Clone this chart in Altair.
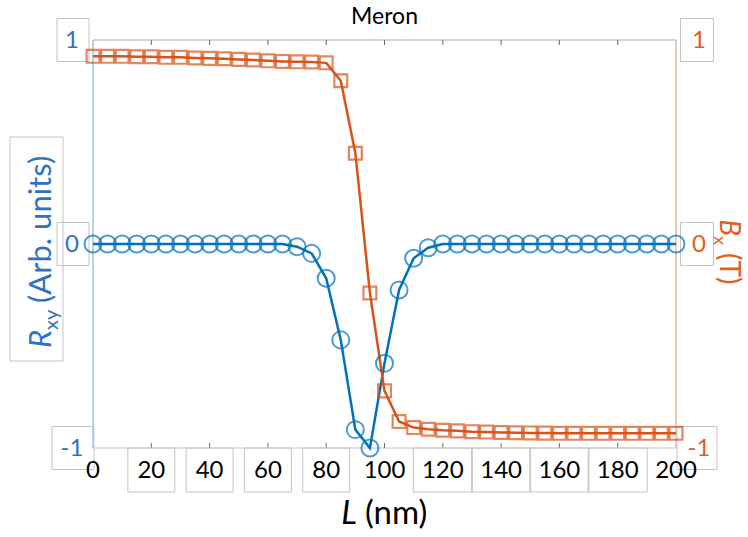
import altair as alt
import pandas as pd

# ---------------------------------------------------------------------------
# Data: domain-wall length sweep, sampled every 5 nm
# ---------------------------------------------------------------------------
L_NM = list(range(0, 205, 5))

# Hall resistance R_xy (arbitrary units)
RXY = [0, 0, 0, 0, 0, 0, 0, 0, 0, 0, 0, 0, 0, 0,
       -0.013, -0.046, -0.168, -0.47, -0.91, -1.0, -0.585, -0.225, -0.07, -0.018,
       0, 0, 0, 0, 0, 0, 0, 0, 0, 0, 0, 0, 0, 0, 0, 0, 0]

# In-plane field B_x (T)
BX = [0.92, 0.92, 0.92, 0.918, 0.918, 0.915, 0.915, 0.912, 0.91, 0.908,
      0.905, 0.902, 0.898, 0.895, 0.893, 0.892, 0.888,
      0.80, 0.445, -0.24, -0.72, -0.87, -0.90, -0.908, -0.913, -0.916,
      -0.92, -0.922, -0.924, -0.925, -0.926, -0.927, -0.928, -0.928,
      -0.928, -0.928, -0.928, -0.928, -0.928, -0.928, -0.928]

X_TICKS = [0, 20, 40, 60, 80, 100, 120, 140, 160, 180, 200]
X_BOXED = [20, 40, 60, 80, 120, 140, 160, 180]
Y_TICKS = [1, 0, -1]
Y_LABELS = ["1", "0", "-1"]

TITLE = "Meron"

# ---------------------------------------------------------------------------
# Layout / style
# ---------------------------------------------------------------------------
W, H = 583, 408
PAD = {"left": 93, "top": 40, "right": 72, "bottom": 89}
PX_PER_Y = H / 2.0          # pixels per y unit
BLUE = "#0072BD"
ORANGE = "#D95319"
BLUE_TXT = "#2E72C2"
ORANGE_TXT = "#E2601A"
BOX = "#c4c4c4"
FONT = "Lato"

xs = alt.Scale(domain=[0, 200], nice=False, zero=False)
ys = alt.Scale(domain=[-1, 1], nice=False, zero=False)

one = pd.DataFrame({"k": [0]})

df = pd.DataFrame({"L": L_NM, "Rxy": RXY, "Bx": BX})

# --- plot frame ------------------------------------------------------------
def hline(yv, color):
    return alt.Chart(one).mark_rule(color=color, strokeWidth=1.2).encode(
        x=alt.XDatum(0, scale=xs), x2=alt.X2Datum(200), y=alt.YDatum(yv, scale=ys))

def vline(xv, color):
    return alt.Chart(one).mark_rule(color=color, strokeWidth=1.2).encode(
        x=alt.XDatum(xv, scale=xs), y=alt.YDatum(-1, scale=ys), y2=alt.Y2Datum(1))

frame = [hline(1, "#ababab"), hline(-1, "#c8c8c8"),
         vline(0, "#86b6cf"), vline(200, "#e6a789")]

tick_len = 5 / PX_PER_Y
tick_df = pd.DataFrame({"x": X_TICKS[1:-1]})
top_ticks = alt.Chart(tick_df).mark_rule(color="#6b6b6b", strokeWidth=1).encode(
    x=alt.X("x:Q", scale=xs), y=alt.YDatum(1, scale=ys), y2=alt.Y2Datum(1 - tick_len))
bot_ticks = alt.Chart(tick_df).mark_rule(color="#6b6b6b", strokeWidth=1).encode(
    x=alt.X("x:Q", scale=xs), y=alt.YDatum(-1, scale=ys), y2=alt.Y2Datum(-1 + tick_len))

# --- label boxes -------------------------------------------------------------
px_per_x = W / 200.0
xbox = pd.DataFrame({"c": X_BOXED})
xbox["hw"] = [(23.5 if c < 100 else 29.5) / px_per_x for c in X_BOXED]
xbox["x0"] = xbox["c"] - xbox["hw"]
xbox["x1"] = xbox["c"] + xbox["hw"]
xbox["y0"] = -1.0
xbox["y1"] = -1.0 - 44 / PX_PER_Y
x_boxes = alt.Chart(xbox).mark_rect(fillOpacity=0, stroke=BOX, strokeWidth=1).encode(
    x=alt.X("x0:Q", scale=xs), x2="x1:Q", y=alt.Y("y0:Q", scale=ys), y2="y1:Q")


def side_boxes(x_center, hw1, hw2):
    rows = []
    for v, lab in zip(Y_TICKS, Y_LABELS):
        hw = hw1 if len(lab) == 1 else hw2
        rows.append({"xa": x_center - hw, "xb": x_center + hw,
                     "y0": v + 21.5 / PX_PER_Y, "y1": v - 21.5 / PX_PER_Y})
    d = pd.DataFrame(rows)
    d["xa"] = d["xa"] / px_per_x
    d["xb"] = d["xb"] / px_per_x
    return alt.Chart(d).mark_rect(fillOpacity=0, stroke=BOX, strokeWidth=1).encode(
        x=alt.X("xa:Q", scale=xs), x2="xb:Q", y=alt.Y("y0:Q", scale=ys), y2="y1:Q")

left_boxes = side_boxes(-20, 16, 21)
right_boxes = side_boxes(W + 21, 16.5, 20)

title_box = alt.Chart(one).mark_rect(fillOpacity=0, stroke=BOX, strokeWidth=1).encode(
    x=alt.value(10 - PAD["left"]), x2=alt.value(63 - PAD["left"]),
    y=alt.value(137 - PAD["top"]), y2=alt.value(361 - PAD["top"]))

# --- tick labels -------------------------------------------------------------
xlab_df = pd.DataFrame({"x": X_TICKS, "lab": [str(t) for t in X_TICKS]})
x_labels = alt.Chart(xlab_df).mark_text(
    font=FONT, fontSize=24, color="black", baseline="middle", dy=23).encode(
    x=alt.X("x:Q", scale=xs), y=alt.YDatum(-1, scale=ys), text="lab:N")

ylab_df = pd.DataFrame({"v": Y_TICKS, "lab": Y_LABELS})
left_labels = alt.Chart(ylab_df).mark_text(
    font=FONT, fontSize=24, color=BLUE_TXT, baseline="middle", dy=1).encode(
    x=alt.value(-21), y=alt.Y("v:Q", scale=ys), text="lab:N")
right_labels = alt.Chart(ylab_df).mark_text(
    font=FONT, fontSize=24, color=ORANGE_TXT, baseline="middle", dy=1).encode(
    x=alt.value(W + 23), y=alt.Y("v:Q", scale=ys), text="lab:N")

# --- data series -------------------------------------------------------------
rxy_line = alt.Chart(df).mark_line(color=BLUE, strokeWidth=2.5).encode(
    x=alt.X("L:Q", scale=xs), y=alt.Y("Rxy:Q", scale=ys))
rxy_pts = alt.Chart(df).mark_point(
    shape="circle", filled=False, color=BLUE, size=290, strokeWidth=2).encode(
    x=alt.X("L:Q", scale=xs), y=alt.Y("Rxy:Q", scale=ys))
bx_line = alt.Chart(df).mark_line(color=ORANGE, strokeWidth=2.5).encode(
    x=alt.X("L:Q", scale=xs), y=alt.Y("Bx:Q", scale=ys))
bx_pts = alt.Chart(df).mark_point(
    shape="square", filled=False, color=ORANGE, size=165, strokeWidth=2.2).encode(
    x=alt.X("L:Q", scale=xs), y=alt.Y("Bx:Q", scale=ys))

# --- titles ----------------------------------------------------------------
def txt(s, x, y, **kw):
    return alt.Chart(one).mark_text(text=s, font=FONT, **kw).encode(
        x=alt.value(x), y=alt.value(y))

title = txt(TITLE, 384.5 - PAD["left"], 17 - PAD["top"], fontSize=23,
            color="black", align="center", baseline="middle")

# x-axis title: italic L, then (nm)
xt_x, xt_y = 357 - PAD["left"], 524 - PAD["top"]
x_title = [
    txt("L", xt_x, xt_y, fontSize=33, fontStyle="italic", color="black",
        align="right", baseline="alphabetic"),
    txt("(nm)", xt_x, xt_y, fontSize=33, color="black",
        align="left", baseline="alphabetic", dx=8),
]

# left title: R_xy (Arb. units), rotated to read upward
lt_x, lt_y = 51 - PAD["left"], 330 - PAD["top"]
left_title = [
    txt("R", lt_x, lt_y, fontSize=31, fontStyle="italic", color=BLUE_TXT, angle=270,
        align="right", baseline="alphabetic"),
    txt("xy", lt_x, lt_y, fontSize=20, color=BLUE_TXT, angle=270,
        align="left", baseline="alphabetic", dy=7),
    txt("(Arb. units)", lt_x, lt_y, fontSize=31, color=BLUE_TXT, angle=270,
        align="left", baseline="alphabetic", dx=27),
]

# right title: B_x (T), rotated to read downward
rt_x, rt_y = 720 - PAD["left"], 236 - PAD["top"]
right_title = [
    txt("B", rt_x, rt_y, fontSize=28, fontStyle="italic", color=ORANGE_TXT, angle=90,
        align="right", baseline="alphabetic"),
    txt("x", rt_x, rt_y, fontSize=18, color=ORANGE_TXT, angle=90,
        align="left", baseline="alphabetic", dy=6),
    txt("(T)", rt_x, rt_y, fontSize=28, color=ORANGE_TXT, angle=90,
        align="left", baseline="alphabetic", dx=17),
]

layers = (frame + [top_ticks, bot_ticks, x_boxes, left_boxes, right_boxes, title_box,
                   x_labels, left_labels, right_labels,
                   rxy_line, bx_line, rxy_pts, bx_pts, title]
          + x_title + left_title + right_title)

chart = alt.layer(*layers).properties(
    width=W, height=H, padding=PAD, autosize="none", background="white"
).configure_view(stroke=None).configure_axis(disable=True)

chart.save("out.html", embed_options={"renderer": "svg", "actions": False})
